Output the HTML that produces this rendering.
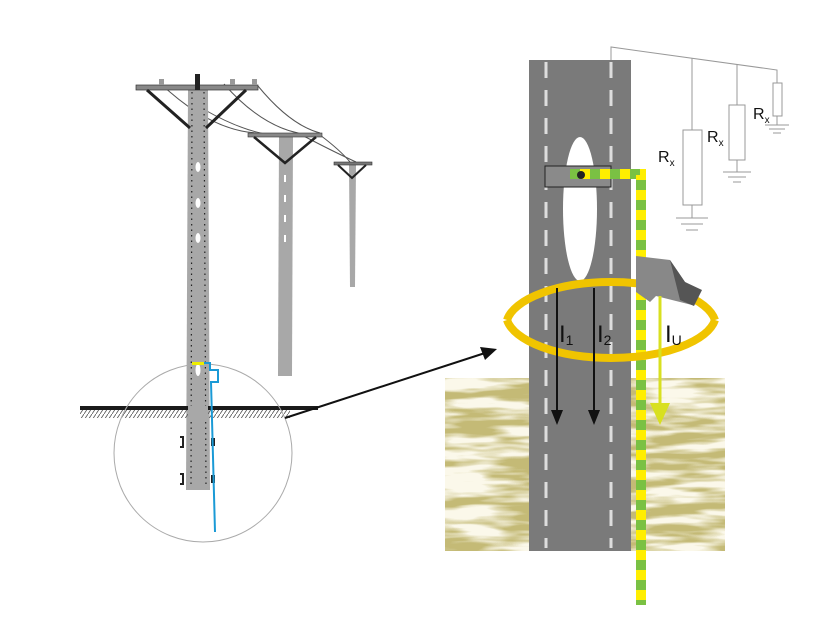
<!DOCTYPE html>
<html><head><meta charset="utf-8"><style>body{margin:0;background:#fff}svg{display:block}</style></head><body>
<svg width="839" height="621" viewBox="0 0 839 621" xmlns="http://www.w3.org/2000/svg" font-family="Liberation Sans, sans-serif">
<defs>
<pattern id="hatch" width="4" height="6" patternUnits="userSpaceOnUse"><path d="M0 6 L4 0" stroke="#555" stroke-width="0.8"/></pattern>
<filter id="soil" x="0" y="0" width="100%" height="100%"><feTurbulence type="fractalNoise" baseFrequency="0.014 0.1" numOctaves="3" seed="4"/><feColorMatrix type="matrix" values="0 0 0 0 0.55  0 0 0 0 0.49  0 0 0 0 0.18  -4 0 0 0 2.55"/></filter>
<pattern id="cab" width="10" height="20" patternUnits="userSpaceOnUse"><rect width="10" height="10" fill="#7ac143"/><rect y="10" width="10" height="10" fill="#ffee00"/></pattern>
<pattern id="cabh" width="20" height="10" patternUnits="userSpaceOnUse"><rect width="10" height="10" fill="#ffee00"/><rect x="10" width="10" height="10" fill="#7ac143"/></pattern>
</defs>
<g fill="none" stroke="#555" stroke-width="1">
<path d="M161 84 Q210 130 256 133"/><path d="M224 84 Q260 125 298 133"/><path d="M258 86 Q290 125 320 133"/><path d="M205 110 Q240 130 270 135"/><path d="M320 135 Q340 150 350 162"/><path d="M298 133 Q330 150 356 162"/>
</g>
<polygon points="349,165 356,165 355,287 350,287" fill="#a8a8a8"/>
<rect x="334" y="162" width="38" height="3" fill="#777" stroke="#333" stroke-width="0.6"/>
<path d="M338 165 L352 178 L366 165" stroke="#222" stroke-width="2" fill="none"/>
<polygon points="279,137 293,137 292,376 278,376" fill="#a8a8a8"/>
<rect x="248" y="133" width="74" height="4" fill="#888" stroke="#333" stroke-width="0.6"/>
<path d="M254 137 L285 163 L316 137" stroke="#222" stroke-width="2.5" fill="none"/>
<g fill="#fff"><rect x="284" y="175" width="2" height="7"/><rect x="284" y="195" width="2" height="7"/><rect x="284" y="215" width="2" height="7"/><rect x="284" y="235" width="2" height="7"/></g>
<polygon points="188,90 208,90 210,490 186,490" fill="#a8a8a8"/>
<g stroke="#222" stroke-width="1.2" stroke-dasharray="1.5 4"><line x1="192" y1="92" x2="191" y2="488"/><line x1="204" y1="92" x2="206" y2="488"/></g>
<g fill="#fff"><ellipse cx="198" cy="167" rx="2.5" ry="5"/><ellipse cx="198" cy="203" rx="2.5" ry="5"/><ellipse cx="198" cy="238" rx="2.5" ry="5"/><ellipse cx="198" cy="370" rx="2.5" ry="6"/></g>
<rect x="136" y="85" width="122" height="5" fill="#888" stroke="#333" stroke-width="0.7"/>
<rect x="195" y="74" width="5" height="16" fill="#222"/>
<g fill="#999"><rect x="159" y="79" width="5" height="6"/><rect x="230" y="79" width="5" height="6"/><rect x="252" y="79" width="5" height="6"/></g>
<path d="M147 90 L190 128 M206 128 L246 90" stroke="#222" stroke-width="3" fill="none"/>
<rect x="80" y="406" width="238" height="4" fill="#1a1a1a"/>
<rect x="80" y="410" width="210" height="8" fill="url(#hatch)"/>
<rect x="188" y="406" width="20" height="12" fill="#a8a8a8"/>
<circle cx="203" cy="453" r="89" fill="none" stroke="#aaa" stroke-width="1"/>
<g fill="#222"><path d="M180 436h4v12h-4v-2h2v-8h-2z"/><path d="M180 473h4v12h-4v-2h2v-8h-2z"/><rect x="211" y="438" width="4" height="8"/><rect x="211" y="475" width="4" height="8"/></g>
<rect x="192" y="362" width="12" height="3" fill="#ee0"/>
<path d="M204 363 L210 363 L210 370 L218 370 L218 382 L211 382 L215 532" stroke="#1a9ad6" stroke-width="2" fill="none"/>
<line x1="285" y1="418" x2="485" y2="353" stroke="#111" stroke-width="2"/>
<polygon points="497,349 480,347 485,360" fill="#111"/>
<rect x="445" y="378" width="280" height="173" fill="#fbf8ea"/>
<rect x="445" y="378" width="280" height="173" filter="url(#soil)"/>
<rect x="529" y="60" width="102" height="491" fill="#7a7a7a"/>
<g stroke="#ddd" stroke-width="3" stroke-dasharray="16 12"><line x1="546" y1="62" x2="546" y2="548"/><line x1="611" y1="62" x2="611" y2="548"/></g>
<ellipse cx="580" cy="209" rx="17" ry="72" fill="#fff"/>
<rect x="545" y="166" width="66" height="21" fill="#8a8a8a" stroke="#222" stroke-width="1"/>
<rect x="570" y="169" width="76" height="10" fill="url(#cabh)"/>
<circle cx="581" cy="175" r="4" fill="#222"/>
<path d="M507 320 A105 44 0 0 1 715 320" fill="none" stroke="#f0c400" stroke-width="8"/>
<rect x="636" y="175" width="10" height="430" fill="url(#cab)"/>
<path d="M636 256 L670 260 L685 282 L700 292 L692 305 L672 300 L656 296 L650 302 L636 292 Z" fill="#888"/>
<path d="M670 260 L685 282 L702 290 L694 306 L680 300 Z" fill="#555"/>
<path d="M507 320 A105 44 0 0 0 715 320" fill="none" stroke="#f0c400" stroke-width="8"/>
<g stroke="#111" stroke-width="2"><line x1="557" y1="288" x2="557" y2="410"/><line x1="594" y1="288" x2="594" y2="410"/></g>
<g fill="#111"><polygon points="551,410 563,410 557,425"/><polygon points="588,410 600,410 594,425"/></g>
<line x1="660" y1="296" x2="660" y2="405" stroke="#d8e020" stroke-width="3"/>
<polygon points="650,403 670,403 660,425" fill="#d8e020"/>
<g font-size="24" fill="#111"><text x="559" y="342">I<tspan font-size="14" dy="3">1</tspan></text><text x="597" y="342">I<tspan font-size="14" dy="3">2</tspan></text><text x="665" y="342">I<tspan font-size="14" dy="3">U</tspan></text></g>
<g stroke="#999" stroke-width="1" fill="none">
<path d="M611 60 V47 L777 70 V83"/><line x1="692" y1="58" x2="692" y2="130"/><line x1="737" y1="64" x2="737" y2="105"/>
<rect x="683" y="130" width="19" height="75" fill="#fff"/><rect x="729" y="105" width="16" height="55" fill="#fff"/><rect x="773" y="83" width="9" height="33" fill="#fff"/>
<path d="M692 205 V218 M676 218 H708 M681 224 H703 M686 230 H698"/>
<path d="M737 160 V172 M723 172 H751 M728 177 H746 M733 182 H741"/>
<path d="M777 116 V125 M765 125 H789 M769 129 H785 M773 133 H781"/>
</g>
<g font-size="16" fill="#111"><text x="658" y="162">R<tspan font-size="10" dy="4">x</tspan></text><text x="707" y="142">R<tspan font-size="10" dy="4">x</tspan></text><text x="753" y="119">R<tspan font-size="10" dy="4">x</tspan></text></g>
</svg>
</body></html>
